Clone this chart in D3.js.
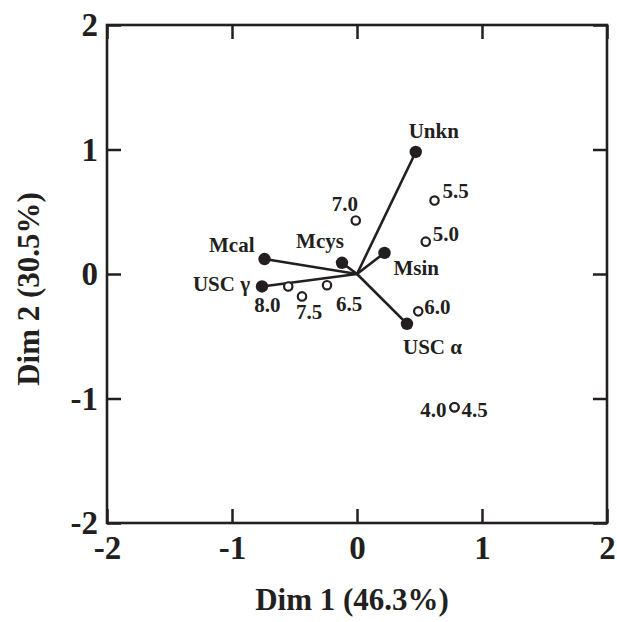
<!DOCTYPE html>
<html>
<head>
<meta charset="utf-8">
<script src="https://cdn.jsdelivr.net/npm/d3@7"></script>
<style>
  html, body { margin: 0; padding: 0; background: #fff; }
  svg { display: block; }
  text { font-family: "Liberation Serif", "Times New Roman", serif; font-weight: bold; fill: #231f20; }
</style>
</head>
<body>
<svg id="chart" width="617" height="622"></svg>
<script>
// ---- data ----
const vectorNames = ["Unkn", "Mcal", "Mcys", "USC γ", "Msin", "USC α"];
const vectorDim1  = [0.47, -0.74, -0.12, -0.76, 0.22, 0.40];
const vectorDim2  = [0.98, 0.12, 0.09, -0.10, 0.17, -0.40];

const pointNames = ["5.5", "5.0", "6.0", "7.0", "6.5", "7.5", "8.0", "4.0", "4.5"];
const pointDim1  = [0.62, 0.55, 0.49, -0.01, -0.24, -0.44, -0.55, 0.78, 0.78];
const pointDim2  = [0.59, 0.26, -0.30, 0.43, -0.09, -0.18, -0.10, -1.07, -1.07];

const tickValues = [-2, -1, 0, 1, 2];
const xTitle = "Dim 1 (46.3%)";
const yTitle = "Dim 2 (30.5%)";

// ---- label placement (layout only) ----
const vectorLabelLayout = [
  {dx: 18, dy: -14, anchor: "middle"},
  {dx: -10, dy: -7, anchor: "end"},
  {dx: -22, dy: -15, anchor: "middle"},
  {dx: -12, dy: 5, anchor: "end"},
  {dx: 9, dy: 22, anchor: "start"},
  {dx: -4, dy: 30, anchor: "start"}
];
const pointLabelLayout = [
  {dx: 8, dy: -3, anchor: "start"},
  {dx: 7, dy: -1, anchor: "start"},
  {dx: 6, dy: 3, anchor: "start"},
  {dx: -11, dy: -9, anchor: "middle"},
  {dx: 22, dy: 26, anchor: "middle"},
  {dx: 7, dy: 23, anchor: "middle"},
  {dx: -21, dy: 26, anchor: "middle"},
  {dx: -8, dy: 10, anchor: "end"},
  {dx: 7, dy: 10, anchor: "start"}
];

const ink = "#231f20";
const svg = d3.select("#chart");
const L = 107, R = 607, T = 25, B = 523;

const x = d3.scaleLinear().domain([-2, 2]).range([L, R]);
const y = d3.scaleLinear().domain([-2, 2]).range([B, T]);

// axes
const fmt = d => d < 0 ? "-" + Math.abs(d) : String(d);
function styleAxis(g) {
  g.select(".domain").remove();
  g.selectAll(".tick line").attr("stroke", ink).attr("stroke-width", 2.5);
  g.selectAll(".tick text").style("font-size", "33px").attr("fill", ink);
}
svg.append("g").attr("transform", `translate(0,${B})`)
  .call(d3.axisBottom(x).tickValues(tickValues).tickFormat(fmt).tickSize(-14).tickPadding(13))
  .call(styleAxis)
  .call(g => g.selectAll(".tick text").attr("dy", "0.71em"));
svg.append("g").attr("transform", `translate(0,${T})`)
  .call(d3.axisTop(x).tickValues(tickValues).tickFormat("").tickSize(-14))
  .call(styleAxis);
svg.append("g").attr("transform", `translate(${L},0)`)
  .call(d3.axisLeft(y).tickValues(tickValues).tickFormat(fmt).tickSize(-14).tickPadding(9))
  .call(styleAxis);
svg.append("g").attr("transform", `translate(${R},0)`)
  .call(d3.axisRight(y).tickValues(tickValues).tickFormat("").tickSize(-14))
  .call(styleAxis);

// frame
svg.append("rect").attr("x", L).attr("y", T).attr("width", R - L).attr("height", B - T)
  .attr("fill", "none").attr("stroke", ink).attr("stroke-width", 2.6);

// titles
svg.append("text").attr("x", (L + R) / 2 - 5).attr("y", 610)
  .attr("text-anchor", "middle").style("font-size", "31px").text(xTitle);
svg.append("text").attr("transform", `translate(39,${(T + B) / 2 + 15}) rotate(-90)`)
  .attr("text-anchor", "middle").style("font-size", "31px").text(yTitle);

// vectors
const vectors = vectorNames.map((n, i) => ({name: n, d1: vectorDim1[i], d2: vectorDim2[i], lay: vectorLabelLayout[i]}));
svg.append("g").selectAll("line").data(vectors).join("line")
  .attr("x1", x(0)).attr("y1", y(0))
  .attr("x2", d => x(d.d1)).attr("y2", d => y(d.d2))
  .attr("stroke", ink).attr("stroke-width", 2.6);
svg.append("g").selectAll("circle").data(vectors).join("circle")
  .attr("cx", d => x(d.d1)).attr("cy", d => y(d.d2)).attr("r", 6.2)
  .attr("fill", ink);
svg.append("g").selectAll("text").data(vectors).join("text")
  .attr("x", d => x(d.d1) + d.lay.dx).attr("y", d => y(d.d2) + d.lay.dy)
  .attr("text-anchor", d => d.lay.anchor).style("font-size", "21px")
  .text(d => d.name);

// points
const points = pointNames.map((n, i) => ({name: n, d1: pointDim1[i], d2: pointDim2[i], lay: pointLabelLayout[i]}));
svg.append("g").selectAll("circle").data(points).join("circle")
  .attr("cx", d => x(d.d1)).attr("cy", d => y(d.d2)).attr("r", 4.2)
  .attr("fill", "#fff").attr("stroke", ink).attr("stroke-width", 2.2);
svg.append("g").selectAll("text").data(points).join("text")
  .attr("x", d => x(d.d1) + d.lay.dx).attr("y", d => y(d.d2) + d.lay.dy)
  .attr("text-anchor", d => d.lay.anchor).style("font-size", "21px")
  .text(d => d.name);
</script>
</body>
</html>
